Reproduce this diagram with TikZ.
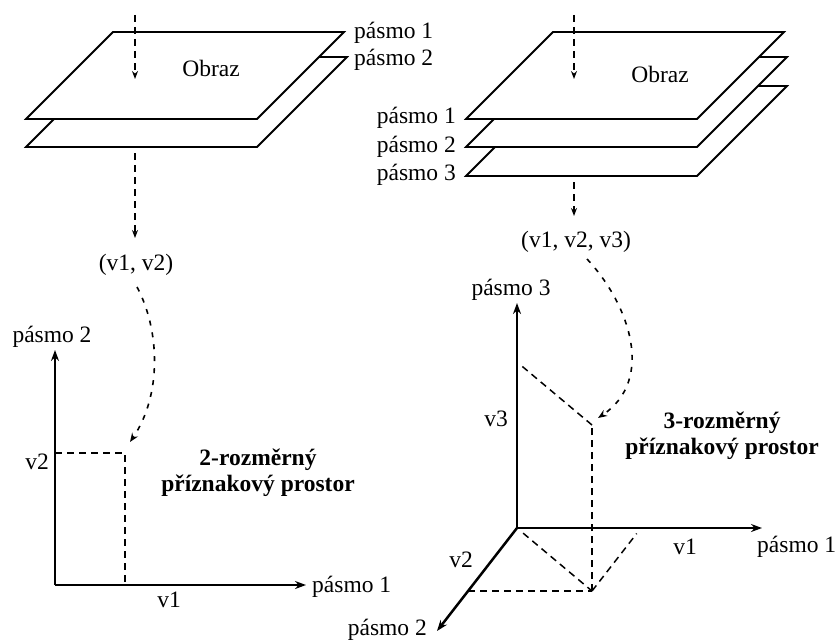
\documentclass[tikz,border=0pt]{standalone}
\usepackage{fontspec}
\setmainfont{Liberation Serif}
\usetikzlibrary{arrows.meta}
\begin{document}
\begin{tikzpicture}[x=1pt,y=-1pt,
  lbl/.style={inner sep=0pt, font=\fontsize{23.5}{26}\selectfont},
  boldlbl/.style={inner sep=0pt, font=\fontsize{23.5}{26}\selectfont\bfseries, align=center},
  plane/.style={draw, fill=white, line width=1.8pt, line join=miter},
  flow/.style={line width=1.6pt, dash pattern=on 7pt off 5pt, -{Stealth[length=8pt,width=6pt]}},
  flowc/.style={line width=1.6pt, dash pattern=on 5pt off 7pt, -{Stealth[length=9pt,width=7pt]}},
  axis/.style={line width=2.5pt, -{Stealth[length=11pt,width=8pt]}},
  proj/.style={line width=1.5pt, dash pattern=on 7pt off 5pt}]
\useasboundingbox (0,0) rectangle (837,642);

% ---------- left image stack ----------
\draw[plane] (26,147) -- (257,147) -- (347,57) -- (116,57) -- cycle;
\draw[plane] (26,119) -- (257,119) -- (344,32) -- (113,32) -- cycle;
\node[lbl] (obrazL) at (211,68) {Obraz};
\node[lbl, anchor=west] (pL1) at (354,33) {pásmo 1};
\node[lbl, anchor=west] (pL2) at (354,60) {pásmo 2};

% ---------- right image stack ----------
\draw[plane] (466,176) -- (697,176) -- (787,86) -- (556,86) -- cycle;
\draw[plane] (466,147) -- (697,147) -- (787,57) -- (556,57) -- cycle;
\draw[plane] (466,119) -- (697,119) -- (784,32) -- (553,32) -- cycle;
\node[lbl] (obrazR) at (660,74) {Obraz};
\node[lbl, anchor=east] (pR1) at (456,118) {pásmo 1};
\node[lbl, anchor=east] (pR2) at (456,147) {pásmo 2};
\node[lbl, anchor=east] (pR3) at (456,175) {pásmo 3};

% ---------- left flow ----------
\coordinate (inLs) at (135,15);
\coordinate (inLe) at (135,79);
\draw[flow] (inLs) -- (inLe);
\coordinate (outLs) at (135,153);
\coordinate (outLe) at (135,238);
\draw[flow] (outLs) -- (outLe);
\node[lbl] (vecL) at (136,265) {(v1, v2)};
\coordinate (curLs) at (137,287);
\coordinate (curLe) at (130,442);
\draw[flowc] (curLs) .. controls (160,330) and (162,395) .. (curLe);

% ---------- right flow ----------
\coordinate (inRs) at (574,15);
\coordinate (inRe) at (574,79);
\draw[flow] (inRs) -- (inRe);
\coordinate (outRs) at (574,182);
\coordinate (outRe) at (574,216);
\draw[flow] (outRs) -- (outRe);
\node[lbl] (vecR) at (576,242) {(v1, v2, v3)};
\coordinate (curRs) at (587,259);
\coordinate (curRe) at (598,418);
\draw[flowc] (curRs) .. controls (630,305) and (655,380) .. (curRe);

% ---------- 2D feature space ----------
\coordinate (O2) at (55,585);
\coordinate (ax2y) at (55,350);
\coordinate (ax2x) at (306,585);
\draw[axis] (O2) -- (ax2y);
\draw[axis] (O2) -- (ax2x);
\coordinate (pv2) at (55,453);
\coordinate (pt2) at (125,453);
\coordinate (pv1) at (125,585);
\draw[proj] (pv2) -- (pt2) -- (pv1);
\node[lbl] (a2y) at (52,337) {pásmo 2};
\node[lbl, anchor=west] (a2x) at (312,587) {pásmo 1};
\node[lbl] (l2v1) at (169,600) {v1};
\node[lbl] (l2v2) at (37,462) {v2};
\node[boldlbl] (t2) at (258,473) {2-rozměrný\\příznakový prostor};

% ---------- 3D feature space ----------
\coordinate (O3) at (517,528);
\coordinate (ax3z) at (517,303);
\coordinate (ax3x) at (762,528);
\coordinate (ax3y) at (437,631);
\draw[axis] (O3) -- (ax3z);
\draw[axis] (O3) -- (ax3x);
\draw[axis] (O3) -- (ax3y);
\coordinate (B) at (592,591);
\coordinate (T) at (592,425);
\coordinate (X1) at (641,528);
\coordinate (Y2) at (468,591);
\coordinate (Z3) at (517,362);
\draw[proj] (Y2) -- (B);
\draw[proj, shorten <=8pt] (O3) -- (B);
\draw[proj, shorten >=7pt] (B) -- (X1);
\draw[proj] (B) -- (T);
\draw[proj, shorten >=7pt] (T) -- (Z3);
\node[lbl] (a3z) at (511,290) {pásmo 3};
\node[lbl, anchor=west] (a3x) at (757,547) {pásmo 1};
\node[lbl, anchor=south east] (a3y) at (427,641) {pásmo 2};
\node[lbl] (l3v3) at (496,419) {v3};
\node[lbl] (l3v1) at (685,547) {v1};
\node[lbl] (l3v2) at (461,560) {v2};
\node[boldlbl] (t3) at (722,436) {3-rozměrný\\příznakový prostor};
\end{tikzpicture}
\end{document}
